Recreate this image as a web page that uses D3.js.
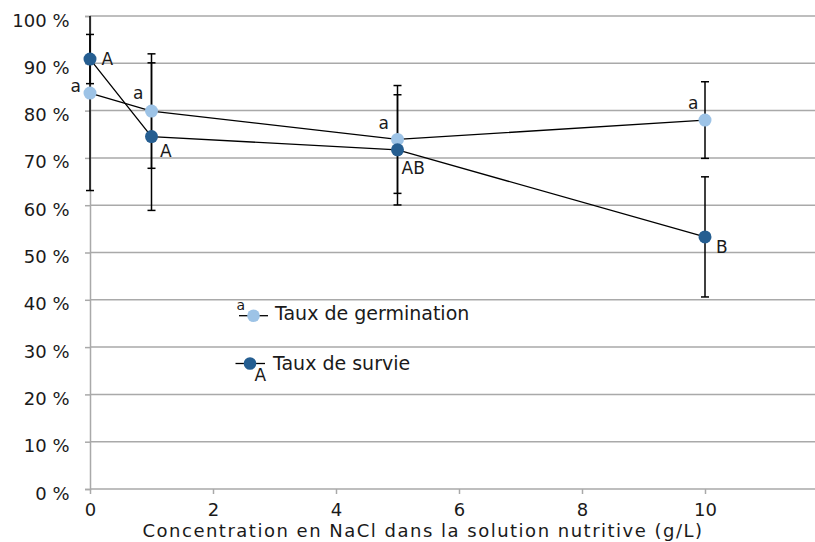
<!DOCTYPE html>
<html><head><meta charset="utf-8">
<script src="https://cdn.jsdelivr.net/npm/d3@7"></script>
<style>
html,body{margin:0;padding:0;background:#fff;}
text{font-family:"DejaVu Sans",sans-serif;fill:#1a1a1a;}
</style></head>
<body><svg id="c" width="815" height="542"></svg>
<script>
// ---- data ----
const concentrations = [0, 1, 5, 10];
const germination = [83.7, 79.9, 73.9, 78.0];
const germinationErr = [20.6, 12.1, 11.4, 8.1];
const germinationLetters = ["a", "a", "a", "a"];
const survival = [90.9, 74.5, 71.7, 53.3];
const survivalErr = [5.2, 15.6, 11.65, 12.7];
const survivalLetters = ["A", "A", "AB", "B"];
const xTicks = [0, 2, 4, 6, 8, 10];
const yTicks = [0, 10, 20, 30, 40, 50, 60, 70, 80, 90, 100];
const seriesNames = ["Taux de germination", "Taux de survie"];
const xTitle = "Concentration en NaCl dans la solution nutritive (g/L)";

// ---- layout / style ----
const lightColor = "#9DC3E6", darkColor = "#255E91", gridColor = "#a9a9a9";
// label offsets relative to point (dx, dy, anchor)
const germLabelPos = [[-9,-1,"end"],[-8,-12.5,"end"],[-8.5,-10,"end"],[-6.5,-11.5,"end"]];
const survLabelPos = [[11.5,6,"start"],[8.5,20,"start"],[4,24.5,"start"],[11,16.5,"start"]];

const svg = d3.select("#c");
const x = d3.scaleLinear().domain([0, 12]).range([90, 90 + 12 * 61.5]);
const y = d3.scaleLinear().domain([0, 100]).range([489, 16]);

const defs = svg.append("defs");
defs.append("clipPath").attr("id","clip").append("rect")
  .attr("x", 0).attr("y", y(100)).attr("width", 815).attr("height", y(0) - y(100));

// grid lines
svg.append("g").selectAll("line").data(yTicks.filter(d => d > 0)).join("line")
  .attr("x1", x(0)).attr("x2", 815).attr("y1", d => y(d)).attr("y2", d => y(d))
  .attr("stroke", gridColor).attr("stroke-width", 1.5);

// y axis
const yAxis = svg.append("g").attr("transform", `translate(${x(0)},0)`)
  .call(d3.axisLeft(y).tickValues(yTicks).tickSize(5).tickFormat(d => d + " %"));
yAxis.select(".domain").attr("stroke", gridColor).attr("stroke-width", 1.5);
yAxis.selectAll(".tick line").attr("stroke", gridColor).attr("stroke-width", 1.5);
yAxis.selectAll(".tick text").attr("x", -20.5).attr("dy", "0.56em")
  .style("font-size", "18px").style("font-family", "DejaVu Sans").attr("fill", "#1a1a1a");

// x axis
const xAxis = svg.append("g").attr("transform", `translate(0,${y(0)})`)
  .call(d3.axisBottom(x).tickValues(xTicks).tickSize(5).tickFormat(d3.format("d")));
xAxis.select(".domain").attr("d", `M${x(0)},0H815`).attr("stroke", gridColor).attr("stroke-width", 1.5);
xAxis.selectAll(".tick line").attr("stroke", gridColor).attr("stroke-width", 1.5);
xAxis.selectAll(".tick text").attr("y", 27).attr("dy", 0)
  .style("font-size", "18px").style("font-family", "DejaVu Sans").attr("fill", "#1a1a1a");

// x title
svg.append("text").attr("x", 142.5).attr("y", 536.5)
  .style("font-size", "18px").style("letter-spacing", "1.5px").text(xTitle);

const plot = svg.append("g").attr("clip-path", "url(#clip)");

function errorBars(vals, errs) {
  const g = plot.append("g").attr("stroke", "#000").attr("stroke-width", 1.5);
  concentrations.forEach((c, i) => {
    const cx = x(c), top = y(vals[i] + errs[i]), bot = y(vals[i] - errs[i]);
    g.append("line").attr("x1", cx).attr("x2", cx).attr("y1", top).attr("y2", bot);
    g.append("line").attr("x1", cx - 4).attr("x2", cx + 4).attr("y1", top).attr("y2", top);
    g.append("line").attr("x1", cx - 4).attr("x2", cx + 4).attr("y1", bot).attr("y2", bot);
  });
}
errorBars(germination, germinationErr);
errorBars(survival, survivalErr);

const line = d3.line().x(d => x(d[0])).y(d => y(d[1]));
[germination, survival].forEach(vals => {
  plot.append("path").datum(concentrations.map((c, i) => [c, vals[i]]))
    .attr("d", line).attr("fill", "none").attr("stroke", "#000").attr("stroke-width", 1.3);
});

function markers(vals, color) {
  svg.append("g").selectAll("circle").data(concentrations).join("circle")
    .attr("cx", d => x(d)).attr("cy", (d, i) => y(vals[i])).attr("r", 6.5).attr("fill", color);
}
markers(germination, lightColor);
markers(survival, darkColor);

function letters(vals, labs, pos) {
  svg.append("g").selectAll("text").data(labs).join("text")
    .attr("x", (d, i) => x(concentrations[i]) + pos[i][0])
    .attr("y", (d, i) => y(vals[i]) + pos[i][1])
    .attr("text-anchor", (d, i) => pos[i][2])
    .style("font-size", "17px").text(d => d);
}
letters(germination, germinationLetters, germLabelPos);
letters(survival, survivalLetters, survLabelPos);

// legend
const leg = svg.append("g");
const legItems = [
  {name: seriesNames[0], color: lightColor, cx: 253.5, cy: 315.7, lx1: 239, lx2: 268, tx: 275, ty: 320, lab: germinationLetters[0], labX: 236.5, labY: 310, labSize: 14},
  {name: seriesNames[1], color: darkColor, cx: 250, cy: 363.5, lx1: 235.5, lx2: 265, tx: 273, ty: 369.5, lab: survivalLetters[0], labX: 254.5, labY: 381, labSize: 17}
];
legItems.forEach(it => {
  leg.append("line").attr("x1", it.lx1).attr("x2", it.lx2).attr("y1", it.cy).attr("y2", it.cy)
    .attr("stroke", "#000").attr("stroke-width", 1.3);
  leg.append("text").attr("x", it.labX).attr("y", it.labY).style("font-size", it.labSize + "px").text(it.lab);
  leg.append("circle").attr("cx", it.cx).attr("cy", it.cy).attr("r", 6.3).attr("fill", it.color);
  leg.append("text").attr("x", it.tx).attr("y", it.ty).style("font-size", "19px").text(it.name);
});
</script></body></html>
